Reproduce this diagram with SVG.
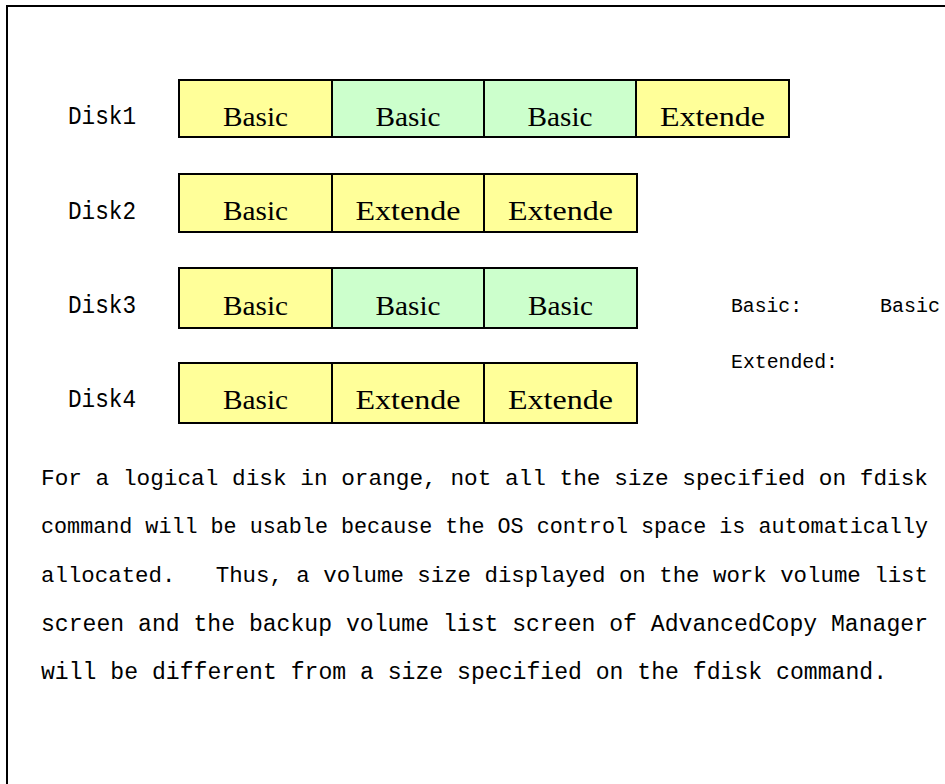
<svg xmlns="http://www.w3.org/2000/svg" width="945" height="784" viewBox="0 0 945 784">
<style>
.frame{fill:none;stroke:#000;stroke-width:2}
.y{fill:#FFFF99;stroke:#000;stroke-width:2}
.g{fill:#CCFFCC;stroke:#000;stroke-width:2}
.ct{font-family:"Liberation Serif","Times New Roman",serif;font-size:28px;fill:#000;text-anchor:middle}
.lbl{font-family:"Liberation Mono","DejaVu Sans Mono",monospace;font-size:25px;fill:#000}
.leg{font-family:"Liberation Mono","DejaVu Sans Mono",monospace;font-size:20px;fill:#000}
.body{font-family:"Liberation Mono","DejaVu Sans Mono",monospace;font-size:23px;fill:#000}
</style>
<rect width="945" height="784" fill="#fff"/>
<rect class="frame" x="7" y="6" width="1000" height="820"/>
<g id="disk1">
<text class="lbl" x="68" y="124" textLength="68" lengthAdjust="spacingAndGlyphs">Disk1</text>
<rect class="y" x="179" y="80" width="153" height="57"/>
<rect class="g" x="332" y="80" width="152" height="57"/>
<rect class="g" x="484" y="80" width="152" height="57"/>
<rect class="y" x="636" y="80" width="153" height="57"/>
<text class="ct" x="255.5" y="126" textLength="65" lengthAdjust="spacingAndGlyphs">Basic</text>
<text class="ct" x="408" y="126" textLength="65" lengthAdjust="spacingAndGlyphs">Basic</text>
<text class="ct" x="560" y="126" textLength="65" lengthAdjust="spacingAndGlyphs">Basic</text>
<text class="ct" x="712.5" y="126" textLength="105" lengthAdjust="spacingAndGlyphs">Extende</text>
</g>
<g id="disk2">
<text class="lbl" x="68" y="219" textLength="68" lengthAdjust="spacingAndGlyphs">Disk2</text>
<rect class="y" x="179" y="174" width="153" height="58"/>
<rect class="y" x="332" y="174" width="152" height="58"/>
<rect class="y" x="484" y="174" width="153" height="58"/>
<text class="ct" x="255.5" y="220" textLength="65" lengthAdjust="spacingAndGlyphs">Basic</text>
<text class="ct" x="408" y="220" textLength="105" lengthAdjust="spacingAndGlyphs">Extende</text>
<text class="ct" x="560.5" y="220" textLength="105" lengthAdjust="spacingAndGlyphs">Extende</text>
</g>
<g id="disk3">
<text class="lbl" x="68" y="313" textLength="68" lengthAdjust="spacingAndGlyphs">Disk3</text>
<rect class="y" x="179" y="268" width="153" height="60"/>
<rect class="g" x="332" y="268" width="152" height="60"/>
<rect class="g" x="484" y="268" width="153" height="60"/>
<text class="ct" x="255.5" y="315" textLength="65" lengthAdjust="spacingAndGlyphs">Basic</text>
<text class="ct" x="408" y="315" textLength="65" lengthAdjust="spacingAndGlyphs">Basic</text>
<text class="ct" x="560.5" y="315" textLength="65" lengthAdjust="spacingAndGlyphs">Basic</text>
</g>
<g id="disk4">
<text class="lbl" x="68" y="407" textLength="68" lengthAdjust="spacingAndGlyphs">Disk4</text>
<rect class="y" x="179" y="363" width="153" height="60"/>
<rect class="y" x="332" y="363" width="152" height="60"/>
<rect class="y" x="484" y="363" width="153" height="60"/>
<text class="ct" x="255.5" y="409" textLength="65" lengthAdjust="spacingAndGlyphs">Basic</text>
<text class="ct" x="408" y="409" textLength="105" lengthAdjust="spacingAndGlyphs">Extende</text>
<text class="ct" x="560.5" y="409" textLength="105" lengthAdjust="spacingAndGlyphs">Extende</text>
</g>
<g id="legend">
<text class="leg" x="731" y="312" textLength="71" lengthAdjust="spacingAndGlyphs">Basic:</text>
<text class="leg" x="880" y="312" textLength="60" lengthAdjust="spacingAndGlyphs">Basic</text>
<text class="leg" x="731" y="368" textLength="107" lengthAdjust="spacingAndGlyphs">Extended:</text>
</g>
<g id="connectors"></g>
<g id="note">
<text class="body" x="41" y="485" style="font-size:22.5px" textLength="887" lengthAdjust="spacingAndGlyphs">For a logical disk in orange,&#160;not all the size specified on fdisk</text>
<text class="body" x="41" y="533" style="font-size:21.5px" textLength="887" lengthAdjust="spacingAndGlyphs">command will be usable because the OS control space is automatically</text>
<text class="body" x="41" y="582" style="font-size:21.5px" textLength="887" lengthAdjust="spacingAndGlyphs">allocated.&#160;&#160; Thus,&#160;a volume size displayed on the work volume list</text>
<text class="body" x="41" y="631" textLength="887" lengthAdjust="spacingAndGlyphs">screen and the backup volume list screen of AdvancedCopy Manager</text>
<text class="body" x="41" y="679" textLength="846" lengthAdjust="spacingAndGlyphs">will be different from a size specified on the fdisk command.</text>
</g>
</svg>
